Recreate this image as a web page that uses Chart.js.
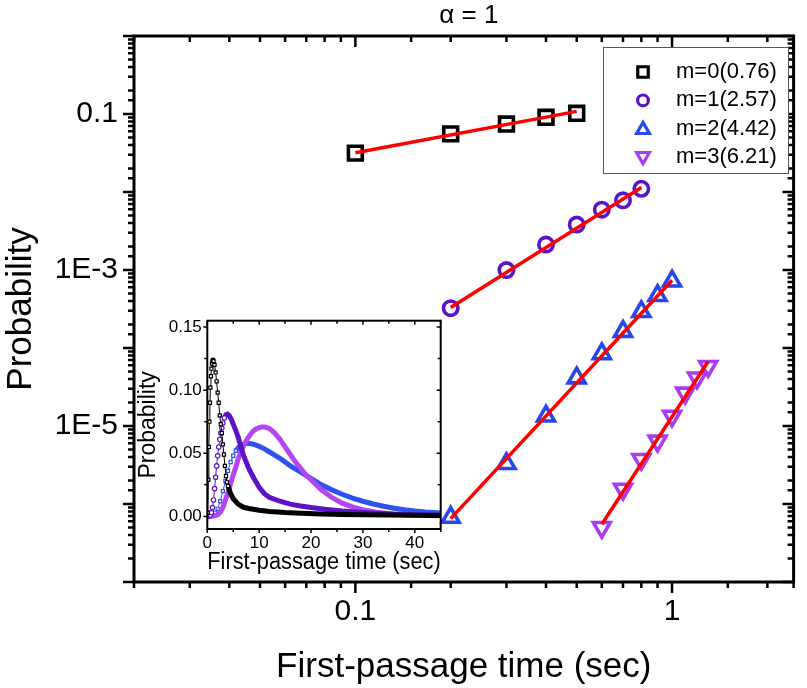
<!DOCTYPE html>
<html>
<head>
<meta charset="utf-8">
<script src="https://cdn.jsdelivr.net/npm/chart.js@4.4.0/dist/chart.umd.min.js"></script>
<style>
  html, body { margin: 0; padding: 0; background: #fff; }
  #wrap { position: relative; width: 807px; height: 688px; }
  #main { position: absolute; left: 0; top: 0; }
  #inset { position: absolute; left: 130px; top: 305px; }
</style>
</head>
<body>
<div id="wrap">
  <canvas id="main" width="807" height="688"></canvas>
  <canvas id="inset" width="325" height="280"></canvas>
</div>
<script>
// ---- main plot: probability vs first-passage time (log-log) ----
const x0 = [0.1, 0.2, 0.3, 0.4, 0.5];
const y0 = [0.0315, 0.0556, 0.0744, 0.0908, 0.102];
const x1 = [0.2, 0.3, 0.4, 0.5, 0.6, 0.7, 0.8];
const y1 = [3.24e-4, 9.97e-4, 2.12e-3, 3.82e-3, 5.94e-3, 7.81e-3, 0.0110];
const x2 = [0.2, 0.3, 0.4, 0.5, 0.6, 0.7, 0.8, 0.9, 1.0];
const y2 = [6.73e-7, 3.29e-6, 1.34e-5, 4.13e-5, 8.43e-5, 1.63e-4, 2.93e-4, 4.70e-4, 7.21e-4];
const x3 = [0.6, 0.7, 0.8, 0.9, 1.0, 1.1, 1.2, 1.3];
const y3 = [5.01e-7, 1.55e-6, 3.73e-6, 6.41e-6, 1.34e-5, 2.65e-5, 4.13e-5, 5.82e-5];

// power-law fit lines (end points)
const fitX0 = [0.1, 0.5], fitY0 = [0.0318, 0.108];
const fitX1 = [0.2, 0.8], fitY1 = [3.3e-4, 0.0114];
const fitX2 = [0.2, 1.0], fitY2 = [6.5e-7, 7.4e-4];
const fitX3 = [0.6, 1.3], fitY3 = [5.5e-7, 6.7e-5];

const seriesNames = ['m=0(0.76)', 'm=1(2.57)', 'm=2(4.42)', 'm=3(6.21)'];
const xLabelVals = [0.1, 1], xLabelText = ['0.1', '1'];
const yLabelVals = [0.1, 1e-3, 1e-5], yLabelText = ['0.1', '1E-3', '1E-5'];

// ---- inset: linear plot ----
const tBlack = [0, 0.1, 0.2, 0.3, 0.4, 0.5, 0.6, 0.7, 0.8, 0.9, 1.0, 1.1, 1.2, 1.4, 1.6, 1.8, 2.0, 2.2, 2.4, 2.6, 2.8, 3.0, 3.2, 3.4, 3.6, 3.8, 4.0, 4.5, 5, 6, 7, 8, 10, 12, 15, 18, 22, 26, 30, 35, 40, 45];
const pBlack = [0, 0.003, 0.029, 0.055, 0.075, 0.090, 0.102, 0.111, 0.117, 0.121, 0.123, 0.124, 0.123, 0.120, 0.114, 0.107, 0.098, 0.090, 0.080, 0.073, 0.066, 0.057, 0.049, 0.040, 0.032, 0.027, 0.024, 0.018, 0.014, 0.0095, 0.0072, 0.0062, 0.0048, 0.0038, 0.0030, 0.0025, 0.0019, 0.0015, 0.0012, 0.0010, 0.0008, 0.0007];
const tPurple = [0, 0.2, 0.4, 0.6, 0.8, 1.0, 1.2, 1.4, 1.6, 1.8, 2.0, 2.2, 2.4, 2.6, 2.8, 3.0, 3.3, 3.6, 3.9, 4.2, 4.6, 5, 5.5, 6, 6.5, 7, 8, 9, 10, 11, 12, 14, 16, 18, 20, 23, 26, 30, 35, 40, 45];
const pPurple = [0, 0.0003, 0.0006, 0.001, 0.003, 0.007, 0.013, 0.022, 0.031, 0.040, 0.048, 0.055, 0.061, 0.066, 0.070, 0.074, 0.078, 0.0805, 0.081, 0.080, 0.077, 0.073, 0.068, 0.062, 0.055, 0.048, 0.038, 0.030, 0.023, 0.018, 0.015, 0.012, 0.0097, 0.0082, 0.0070, 0.0055, 0.0042, 0.0030, 0.0019, 0.0012, 0.0008];
const tBlue = [0, 0.5, 1, 1.5, 2, 2.5, 3, 3.5, 4, 4.5, 5, 5.5, 6, 6.5, 7, 7.5, 8, 8.5, 9, 10, 11, 12, 13, 14, 15, 16, 18, 20, 22, 24, 26, 28, 30, 32, 34, 36, 38, 40, 42, 45];
const pBlue = [0, 0.0002, 0.001, 0.003, 0.006, 0.012, 0.020, 0.028, 0.036, 0.043, 0.048, 0.052, 0.0545, 0.0563, 0.0572, 0.0577, 0.0578, 0.0575, 0.057, 0.0555, 0.0535, 0.051, 0.0485, 0.046, 0.043, 0.040, 0.035, 0.030, 0.025, 0.021, 0.0175, 0.0145, 0.012, 0.0098, 0.008, 0.0065, 0.0052, 0.0042, 0.0034, 0.0026];
const tViolet = [0, 1, 2, 2.5, 3, 3.5, 4, 4.5, 5, 5.5, 6, 6.5, 7, 7.5, 8, 8.5, 9, 9.5, 10, 10.5, 11, 11.5, 12, 13, 14, 15, 16, 17, 18, 19, 20, 22, 24, 26, 28, 30, 33, 36, 40, 45];
const pViolet = [0, 0.0001, 0.0012, 0.0033, 0.007, 0.013, 0.019, 0.026, 0.033, 0.039, 0.046, 0.051, 0.056, 0.060, 0.0632, 0.066, 0.068, 0.0695, 0.0703, 0.0707, 0.0707, 0.0703, 0.0695, 0.066, 0.061, 0.055, 0.049, 0.043, 0.038, 0.033, 0.029, 0.021, 0.015, 0.0105, 0.0075, 0.0052, 0.003, 0.0017, 0.0009, 0.0005];
const insetXTicks = [0, 5, 10, 15, 20, 25, 30, 35, 40, 45];
const insetYTicks = [0, 0.025, 0.05, 0.075, 0.1, 0.125, 0.15];

const FONT = "'Liberation Sans', Arial, Helvetica, sans-serif";
const colMain = ['#000000', '#5a14c8', '#2846ee', '#a83cf5'];
const colInset = ['#000000', '#5a14c8', '#2c52f0', '#b446f2'];

const pts = (xs, ys) => xs.map((x, i) => ({ x: x, y: ys[i] }));
const isDecade = v => Math.abs(Math.log10(v) - Math.round(Math.log10(v))) < 1e-6;
const near = (a, b) => Math.abs(a - b) <= Math.abs(b) * 1e-6 + 1e-12;

function frameTicks(cfg) {
  return {
    id: 'frameTicks',
    afterDraw(chart) {
      const { ctx, chartArea: a, scales: { x, y } } = chart;
      ctx.save();
      ctx.strokeStyle = '#000';
      ctx.lineWidth = cfg.tickWidth;
      ctx.beginPath();
      x.ticks.forEach(t => {
        const px = x.getPixelForValue(t.value);
        if (px < a.left - 0.5 || px > a.right + 0.5) return;
        const len = cfg.majorX(t.value) ? cfg.major : cfg.minor;
        ctx.moveTo(px, a.bottom); ctx.lineTo(px, a.bottom + len);
        ctx.moveTo(px, a.top); ctx.lineTo(px, a.top + len);
      });
      y.ticks.forEach(t => {
        const py = y.getPixelForValue(t.value);
        if (py < a.top - 0.5 || py > a.bottom + 0.5) return;
        const len = cfg.majorY(t.value) ? cfg.major : cfg.minor;
        ctx.moveTo(a.left - len, py); ctx.lineTo(a.left, py);
        ctx.moveTo(a.right - len, py); ctx.lineTo(a.right, py);
      });
      ctx.stroke();
      ctx.lineWidth = cfg.frameWidth;
      ctx.strokeRect(a.left, a.top, a.right - a.left, a.bottom - a.top);
      ctx.restore();
    }
  };
}

const legendBox = {
  id: 'legendBox',
  afterDraw(chart) {
    const ctx = chart.ctx;
    const bx = 603, by = 47, bw = 185, bh = 126;
    ctx.save();
    ctx.fillStyle = '#fff';
    ctx.fillRect(bx, by, bw, bh);
    ctx.strokeStyle = '#555';
    ctx.lineWidth = 1;
    ctx.strokeRect(bx + 0.5, by + 0.5, bw, bh);
    const marks = chart.data.datasets.filter(d => d.legendName);
    marks.forEach((d, i) => {
      const cy = 72 + i * 28.4;
      ctx.strokeStyle = d.borderColor;
      ctx.fillStyle = 'rgba(0,0,0,0)';
      ctx.lineWidth = 3.2;
      const r = d.pointStyle === 'circle' ? 5.4 : 7.4;
      Chart.helpers.drawPoint(ctx, { pointStyle: d.pointStyle, rotation: d.rotation || 0, radius: r, borderWidth: 3.2 }, 643, cy + (d.pointStyle === 'triangle' ? (d.rotation ? -1 : 1) : 0));
      ctx.fillStyle = '#000';
      ctx.font = '22px ' + FONT;
      ctx.textAlign = 'left';
      ctx.textBaseline = 'middle';
      ctx.fillText(d.legendName, 676, cy);
    });
    ctx.font = '26px ' + FONT;
    ctx.textAlign = 'center';
    ctx.textBaseline = 'middle';
    ctx.fillText('\u03b1 = 1', (chart.chartArea.left + chart.chartArea.right) / 2 + 5, 16);
    ctx.restore();
  }
};

const markerSets = [[x0, y0, 'rect', 0, 9.8], [x1, y1, 'circle', 0, 7.2], [x2, y2, 'triangle', 0, 9.8], [x3, y3, 'triangle', 180, 9.8]];
const fitSets = [[fitX0, fitY0], [fitX1, fitY1], [fitX2, fitY2], [fitX3, fitY3]];

const mainDatasets = [];
fitSets.forEach(f => mainDatasets.push({
  data: pts(f[0], f[1]), showLine: true, borderColor: '#ff0000', borderWidth: 3.5,
  pointRadius: 0, order: 0
}));
markerSets.forEach((m, i) => mainDatasets.push({
  legendName: seriesNames[i], data: pts(m[0], m[1]), showLine: false,
  pointStyle: m[2], rotation: m[3], pointRadius: m[4], pointBorderWidth: 3.6,
  borderColor: colMain[i], pointBorderColor: colMain[i], pointBackgroundColor: 'rgba(0,0,0,0)',
  order: 1
}));

const labelFrom = (vals, text) => v => {
  const i = vals.findIndex(u => near(v, u));
  return i >= 0 ? text[i] : '';
};

new Chart(document.getElementById('main'), {
  type: 'scatter',
  data: { datasets: mainDatasets },
  options: {
    responsive: false, animation: false, devicePixelRatio: 1,
    layout: { padding: { top: 36, right: 7, left: 0, bottom: 0 } },
    plugins: { legend: { display: false }, tooltip: { enabled: false } },
    scales: {
      x: {
        type: 'logarithmic', min: 0.02, max: 2.42,
        grid: { display: false, drawTicks: false }, border: { display: false },
        ticks: { autoSkip: false, maxRotation: 0, padding: 12, color: '#000', font: { family: FONT, size: 30 }, callback: labelFrom(xLabelVals, xLabelText) },
        title: { display: true, text: 'First-passage time (sec)', color: '#000', font: { family: FONT, size: 35 }, padding: { top: 0, bottom: 0 } },
        afterFit: s => { s.height = 106; }
      },
      y: {
        type: 'logarithmic', min: 1e-7, max: 1,
        grid: { display: false, drawTicks: false }, border: { display: false },
        ticks: { autoSkip: false, padding: 16, color: '#000', font: { family: FONT, size: 30 }, callback: labelFrom(yLabelVals, yLabelText) },
        title: { display: true, text: 'Probability', color: '#000', font: { family: FONT, size: 35 }, padding: { top: 0, bottom: 0 } },
        afterFit: s => { s.width = 134; }
      }
    }
  },
  plugins: [frameTicks({ tickWidth: 2.5, frameWidth: 3, major: 11, minor: 6, majorX: isDecade, majorY: isDecade }), legendBox]
});

// ---- inset chart ----
// [t, p, colour index, point style, time up to which single markers show]
const insetSets = [[tBlack, pBlack, 0, 'rect', 4.2], [tPurple, pPurple, 1, 'circle', 3.4], [tViolet, pViolet, 3, 'circle', 0], [tBlue, pBlue, 2, 'rect', 5.6]];
const insetDatasets = insetSets.map(s => ({
  data: pts(s[0], s[1]), showLine: true, borderColor: colInset[s[2]], borderWidth: 5,
  pointStyle: s[3], pointBorderColor: colInset[s[2]], pointBackgroundColor: '#fff', pointBorderWidth: 1.2,
  pointRadius: c => (c.raw && c.raw.x > 0 && c.raw.x <= s[4] ? 2.2 : 0),
  segment: { borderWidth: c => (c.p1.parsed.x <= s[4] ? 1 : 5) },
  tension: 0
}));

new Chart(document.getElementById('inset'), {
  type: 'scatter',
  data: { datasets: insetDatasets },
  options: {
    responsive: false, animation: false, devicePixelRatio: 1,
    layout: { padding: { top: 12.3, right: 14.3, left: 0, bottom: 0 } },
    plugins: { legend: { display: false }, tooltip: { enabled: false } },
    scales: {
      x: {
        type: 'linear', min: 0, max: 45,
        grid: { display: false, drawTicks: false }, border: { display: false },
        afterBuildTicks: s => { s.ticks = insetXTicks.map(v => ({ value: v })); },
        ticks: { autoSkip: false, maxRotation: 0, padding: 4, color: '#000', font: { family: FONT, size: 17 }, callback: v => (v % 10 === 0 ? String(v) : '') },
        title: { display: true, text: 'First-passage time (sec)', color: '#000', font: { family: FONT, size: 23.5 }, padding: { top: 0, bottom: 8 } },
        afterFit: s => { s.height = 56; }
      },
      y: {
        type: 'linear', min: -0.01, max: 0.155,
        grid: { display: false, drawTicks: false }, border: { display: false },
        afterBuildTicks: s => { s.ticks = insetYTicks.map(v => ({ value: v })); },
        ticks: { autoSkip: false, padding: 5.5, color: '#000', font: { family: FONT, size: 17 }, callback: v => (Math.abs(Math.round(v / 0.05) * 0.05 - v) < 1e-9 ? v.toFixed(2) : '') },
        title: { display: true, text: 'Probability', color: '#000', font: { family: FONT, size: 23 }, padding: { top: 5, bottom: 0 } },
        afterFit: s => { s.width = 77.3; }
      }
    }
  },
  plugins: [frameTicks({ tickWidth: 1.5, frameWidth: 2, major: 4, minor: 3,
    majorX: v => v % 10 === 0, majorY: v => Math.abs(Math.round(v / 0.05) * 0.05 - v) < 1e-9 })]
});
</script>
</body>
</html>
